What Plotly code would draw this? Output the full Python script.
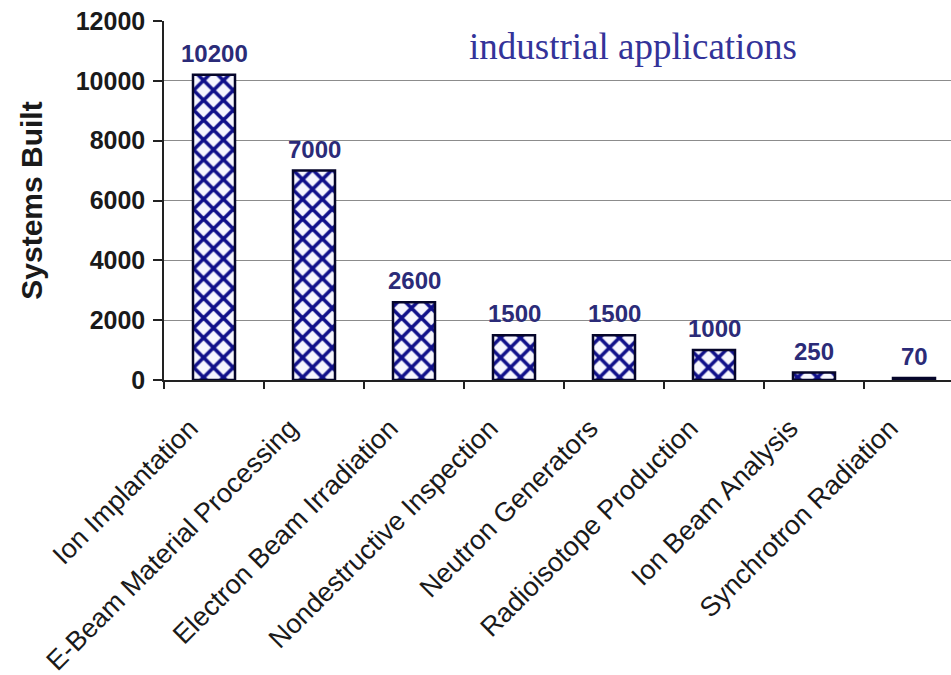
import plotly.graph_objects as go

# Accelerator systems built, by industrial application
applications = [
    "Ion Implantation",
    "E-Beam Material Processing",
    "Electron Beam Irradiation",
    "Nondestructive Inspection",
    "Neutron Generators",
    "Radioisotope Production",
    "Ion Beam Analysis",
    "Synchrotron Radiation",
]
systems_built = [10200, 7000, 2600, 1500, 1500, 1000, 250, 70]
y_ticks = [0, 2000, 4000, 6000, 8000, 10000, 12000]

NAVY = "#10108a"
LABEL_NAVY = "#2b2b78"

fig = go.Figure()
fig.add_trace(
    go.Bar(
        x=applications,
        y=systems_built,
        width=0.42,
        marker=dict(
            color="#f6f6ff",
            line=dict(color="#05052a", width=2.5),
            pattern=dict(shape="x", fgcolor=NAVY, fgopacity=1, bgcolor="#f6f6ff",
                         size=14, solidity=0.45),
        ),
        hoverinfo="x+y",
    )
)

# value labels above each bar
for name, val in zip(applications, systems_built):
    fig.add_annotation(
        x=name, y=val, text=str(val), showarrow=False,
        yanchor="bottom", yshift=6,
        font=dict(family="Liberation Sans, Arial", size=24, color=LABEL_NAVY, weight="bold"),
    )

fig.add_annotation(
    xref="paper", yref="paper", x=0.385, y=0.928,
    xanchor="left", yanchor="middle", showarrow=False,
    text="industrial applications",
    font=dict(family="Liberation Serif, Times New Roman", size=37, color="#333399"),
)

fig.update_xaxes(
    range=[-0.5, 7.37],
    tickangle=-45,
    tickson="boundaries",
    ticks="outside", ticklen=7, tickwidth=1.5, tickcolor="#222",
    ticklabelshift=-24, ticklabelstandoff=20,
    showline=True, linecolor="#222", linewidth=1.5,
    showgrid=False,
    tickfont=dict(family="Liberation Sans, Arial", size=27, color="#1a1a1a"),
)
fig.update_yaxes(
    range=[0, 12000],
    tickvals=y_ticks,
    ticktext=[str(v) for v in y_ticks],
    ticks="outside", ticklen=9, tickwidth=1.5, tickcolor="#222",
    ticklabelstandoff=3,
    showline=True, linecolor="#222", linewidth=1.5,
    showgrid=True, gridcolor="#8c8c8c", gridwidth=1.2,
    zeroline=False,
    tickfont=dict(family="Liberation Sans, Arial", size=25, color="#1a1a1a", weight="bold"),
    title=dict(text="Systems Built", standoff=24,
               font=dict(family="Liberation Sans, Arial", size=30, color="#1a1a1a", weight="bold")),
)

fig.update_layout(
    width=951, height=675,
    margin=dict(l=164, r=0, t=21, b=295),
    plot_bgcolor="white", paper_bgcolor="white",
    showlegend=False,
)

fig.write_html("out.html")
